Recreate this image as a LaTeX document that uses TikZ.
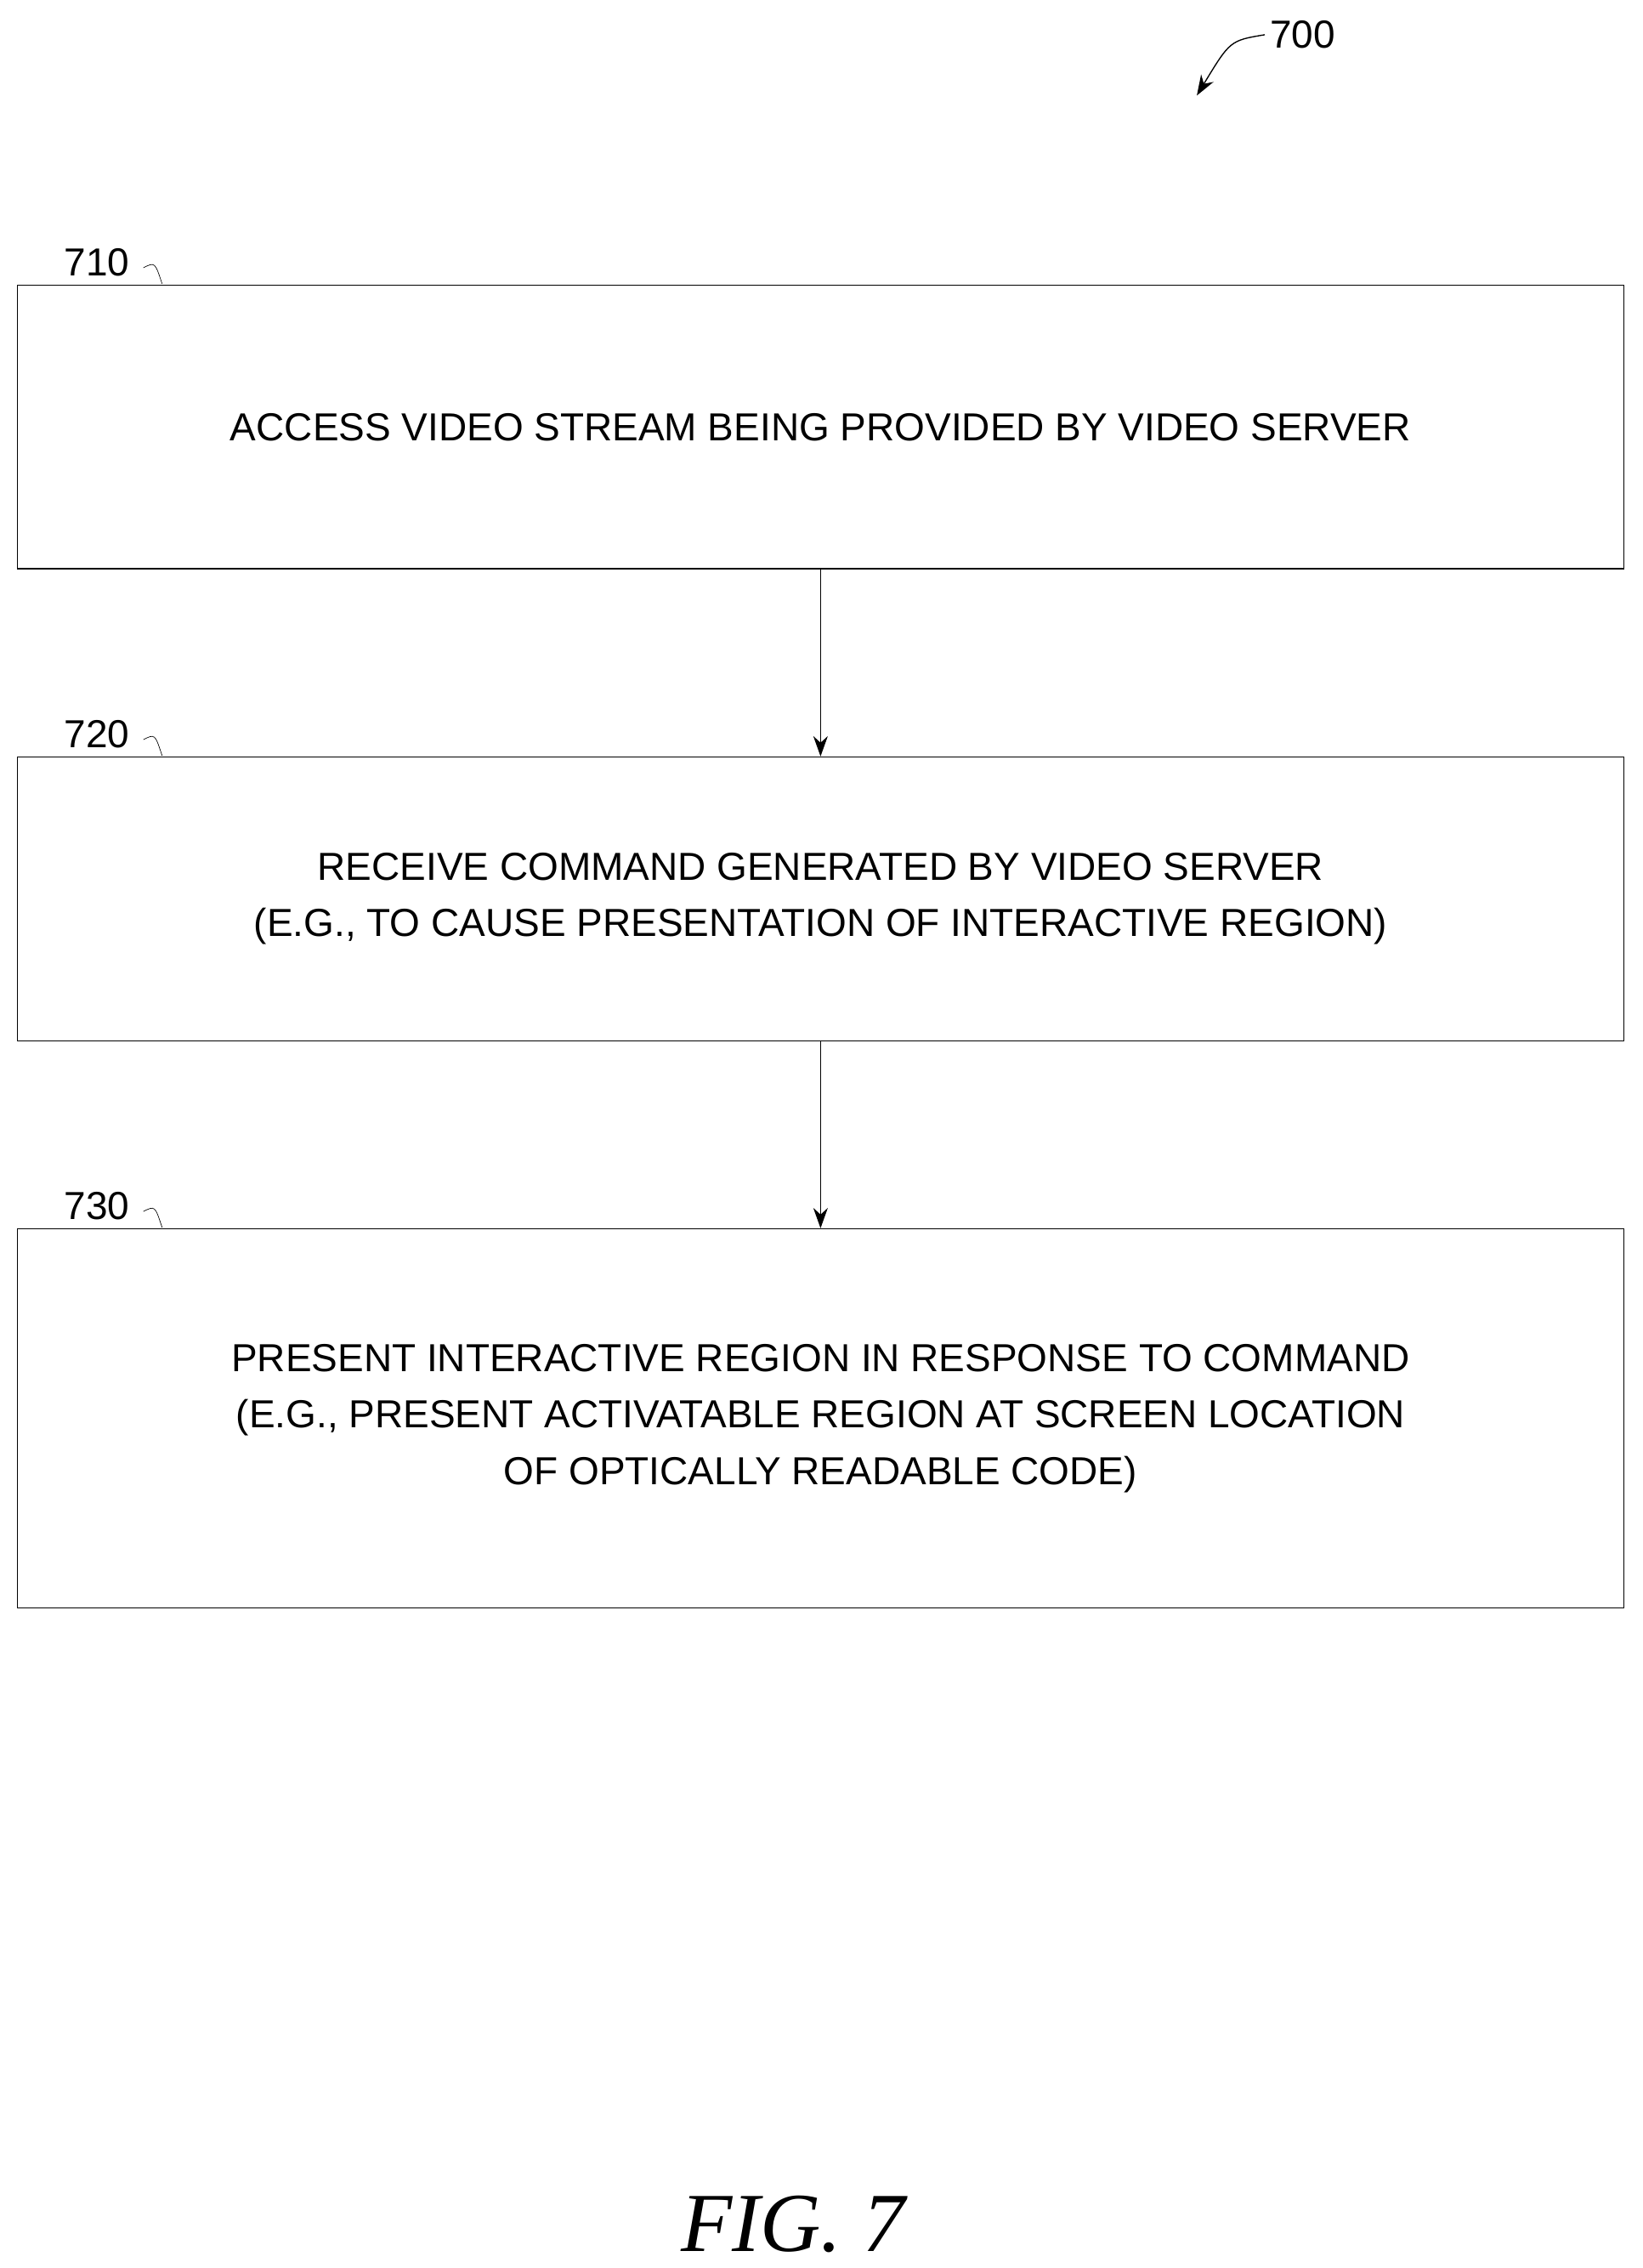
\documentclass[tikz,border=0pt]{standalone}
\usepackage{fontspec}
\setmainfont{Liberation Sans}
\newfontfamily\figfont{Liberation Serif}
\usetikzlibrary{positioning,arrows.meta}
\tikzset{
 stepbox/.style={draw,thick,minimum width=1110pt,align=center,font=\fontsize{27}{39}\selectfont},
 ref/.style={font=\fontsize{27}{30}\selectfont},
 flow/.style={-{Stealth[length=14pt,width=10pt]},thick}
}
\begin{document}
\begin{tikzpicture}[x=1pt,y=-1pt]
 \useasboundingbox (0,0) rectangle (1135,1567);
 % steps
 \node[stepbox,minimum height=196pt] (s710) at (567,295) {ACCESS VIDEO STREAM BEING PROVIDED BY VIDEO SERVER};
 \node[stepbox,minimum height=196pt] (s720) at (567,621) {RECEIVE COMMAND GENERATED BY VIDEO SERVER\\(E.G., TO CAUSE PRESENTATION OF INTERACTIVE REGION)};
 \node[stepbox,minimum height=262pt] (s730) at (567,980) {PRESENT INTERACTIVE REGION IN RESPONSE TO COMMAND\\(E.G., PRESENT ACTIVATABLE REGION AT SCREEN LOCATION\\OF OPTICALLY READABLE CODE)};
 \draw[flow] (s710) -- (s720);
 \draw[flow] (s720) -- (s730);
 % reference numerals
 \node[ref] (l710) at (67,181) {710};
 \node[ref] (l720) at (67,507) {720};
 \node[ref] (l730) at (67,833) {730};
 \foreach \l/\y in {l710/190,l720/516,l730/842}
  \draw (\l.east) ++(6,4) .. controls +(8,-4) .. (112,\y+6);
 \node[ref] (l700) at (900,24) {700};
 \coordinate (a700) at (827,66);
 \draw[flow] (l700.west) .. controls (850,28) .. (a700);
 \node[font=\figfont\itshape\fontsize{58}{60}\selectfont] (fig) at (548,1537) {FIG. 7};
\end{tikzpicture}
\end{document}
